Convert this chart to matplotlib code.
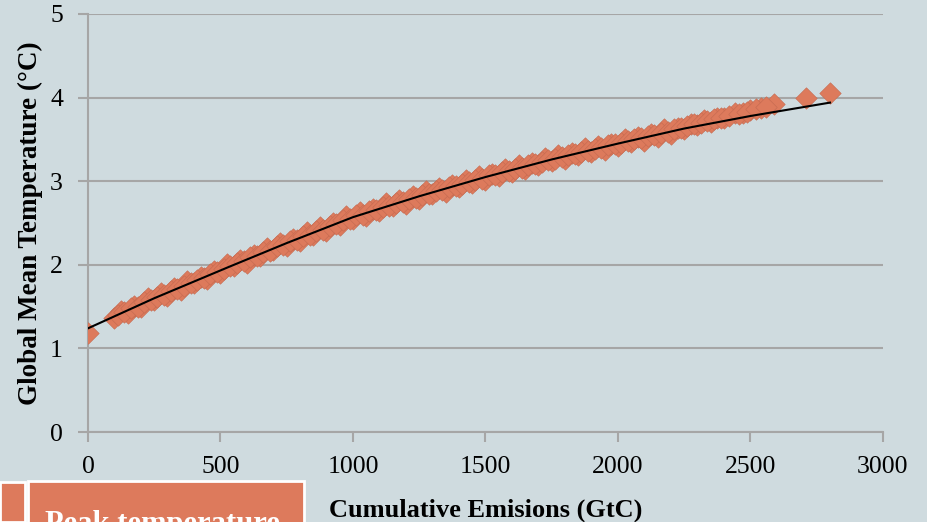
import numpy as np
import matplotlib.pyplot as plt
from matplotlib.patches import Rectangle

# cumulative emissions (GtC) vs. peak global mean temperature (deg C)
emisiones = [0, 100, 125, 150, 175, 200, 225, 250, 275, 300, 325, 350, 375, 400,
             425, 450, 475, 500, 525, 550, 575, 600, 625, 650, 675, 700, 725, 750,
             775, 800, 825, 850, 875, 900, 925, 950, 975, 1000, 1025, 1050, 1075,
             1100, 1125, 1150, 1175, 1200, 1225, 1250, 1275, 1300, 1325, 1350, 1375,
             1400, 1425, 1450, 1475, 1500, 1525, 1550, 1575, 1600, 1625, 1650, 1675,
             1700, 1725, 1750, 1775, 1800, 1825, 1850, 1875, 1900, 1925, 1950, 1975,
             2000, 2025, 2050, 2075, 2100, 2125, 2150, 2175, 2200, 2225, 2250, 2275,
             2300, 2325, 2350, 2375, 2400, 2440, 2470, 2500, 2540, 2590, 2710, 2800]
temperatura = [1.18, 1.36, 1.45, 1.42, 1.51, 1.50, 1.60, 1.58, 1.66, 1.63, 1.72, 1.70,
               1.81, 1.78, 1.86, 1.83, 1.92, 1.90, 2.01, 1.98, 2.06, 2.02, 2.12, 2.10,
               2.20, 2.18, 2.26, 2.22, 2.31, 2.29, 2.39, 2.36, 2.45, 2.41, 2.50, 2.48,
               2.58, 2.55, 2.63, 2.58, 2.67, 2.64, 2.74, 2.70, 2.78, 2.73, 2.82, 2.79,
               2.88, 2.85, 2.92, 2.87, 2.96, 2.93, 3.02, 2.98, 3.06, 3.01, 3.09, 3.06,
               3.15, 3.11, 3.19, 3.14, 3.22, 3.19, 3.28, 3.24, 3.31, 3.26, 3.34, 3.31,
               3.40, 3.35, 3.42, 3.37, 3.45, 3.42, 3.51, 3.47, 3.53, 3.48, 3.56, 3.53,
               3.62, 3.57, 3.64, 3.63, 3.69, 3.67, 3.73, 3.71, 3.76, 3.75, 3.81, 3.81,
               3.85, 3.88, 3.92, 4.00, 4.05]

# more runs in between
emisiones_b = [112, 137, 162, 187, 212, 237, 262, 287, 312, 337, 362, 387, 412, 437,
               462, 487, 512, 537, 562, 587, 612, 637, 662, 687, 712, 737, 762, 787,
               812, 837, 862, 887, 912, 937, 962, 987, 1012, 1037, 1062, 1087, 1112,
               1137, 1162, 1187, 1212, 1237, 1262, 1287, 1312, 1337, 1362, 1387, 1412,
               1437, 1462, 1487, 1512, 1537, 1562, 1587, 1612, 1637, 1662, 1687, 1712,
               1737, 1762, 1787, 1812, 1837, 1862, 1887, 1912, 1937, 1962, 1987, 2012,
               2037, 2062, 2087, 2112, 2137, 2162, 2187, 2212, 2237, 2262, 2287, 2312,
               2337, 2362, 2387, 2420, 2455, 2485, 2520, 2560]
temperatura_b = [1.40, 1.43, 1.48, 1.50, 1.55, 1.58, 1.62, 1.64, 1.69, 1.71, 1.75, 1.78,
                 1.82, 1.84, 1.89, 1.91, 1.95, 1.98, 2.02, 2.04, 2.09, 2.11, 2.15, 2.17,
                 2.22, 2.24, 2.28, 2.30, 2.34, 2.36, 2.40, 2.42, 2.47, 2.49, 2.53, 2.55,
                 2.59, 2.60, 2.64, 2.65, 2.69, 2.70, 2.74, 2.75, 2.79, 2.80, 2.84, 2.85,
                 2.88, 2.89, 2.93, 2.94, 2.97, 2.99, 3.02, 3.03, 3.07, 3.08, 3.11, 3.12,
                 3.15, 3.16, 3.19, 3.20, 3.23, 3.25, 3.27, 3.29, 3.31, 3.32, 3.35, 3.36,
                 3.39, 3.40, 3.43, 3.44, 3.46, 3.48, 3.50, 3.52, 3.54, 3.55, 3.58, 3.59,
                 3.62, 3.64, 3.66, 3.68, 3.70, 3.72, 3.74, 3.76, 3.78, 3.80, 3.83, 3.86,
                 3.89]

# trend line
tend_x = [0, 250, 528, 750, 1000, 1250, 1500, 1750, 2000, 2250, 2500, 2800]
tend_y = [1.24, 1.60, 1.97, 2.26, 2.57, 2.82, 3.05, 3.26, 3.45, 3.63, 3.78, 3.94]

fondo = '#cfdbdf'
naranja = '#dd7a5c'
gris = '#a6a6a6'

plt.rcParams['font.family'] = ['Liberation Serif', 'DejaVu Serif']

fig = plt.figure(figsize=(9.28, 5.22), dpi=100, facecolor=fondo)
ax = fig.add_axes([0.0948, 0.1724, 0.8567, 0.8008])
ax.set_facecolor(fondo)

ax.scatter(emisiones + emisiones_b, temperatura + temperatura_b, marker='D', s=120,
           color=naranja, edgecolors='#c46a50', linewidths=0.4, zorder=3)
ax.plot(tend_x, tend_y, color='black', linewidth=1.5, zorder=4)

ax.set_xlim(0, 3000)
ax.set_ylim(0, 5)
ax.set_xticks(np.arange(0, 3001, 500))
ax.set_yticks(np.arange(0, 6, 1))
ax.yaxis.grid(True, color=gris, linewidth=1.5)
ax.set_axisbelow(True)

for lado in ['top', 'right']:
    ax.spines[lado].set_visible(False)
for lado in ['left', 'bottom']:
    ax.spines[lado].set_color(gris)
    ax.spines[lado].set_linewidth(1.5)
    ax.spines[lado].set_zorder(1)

ax.tick_params(axis='both', colors=gris, width=1.5, length=7,
               labelcolor='black', labelsize=18.5)
ax.tick_params(axis='x', pad=10)
ax.tick_params(axis='y', pad=11)

ax.set_xlabel('Cumulative Emisions (GtC)', fontsize=19, fontweight='bold', labelpad=15)
ax.set_ylabel('Global Mean Temperature (°C)', fontsize=19.5, fontweight='bold', labelpad=5)

# recuadro inferior
fig.patches.append(Rectangle((0, 0), 25 / 928, 40 / 522, transform=fig.transFigure,
                             facecolor=naranja, edgecolor='white', linewidth=2))
fig.patches.append(Rectangle((28 / 928, -0.02), 276 / 928, 41 / 522 + 0.02,
                             transform=fig.transFigure, facecolor=naranja,
                             edgecolor='white', linewidth=2))
fig.text(45 / 928, 1 - 532 / 522, 'Peak temperature', color='white',
         fontsize=22, fontweight='bold', va='baseline', ha='left')

fig.savefig('out.png', dpi=100, facecolor=fondo)
